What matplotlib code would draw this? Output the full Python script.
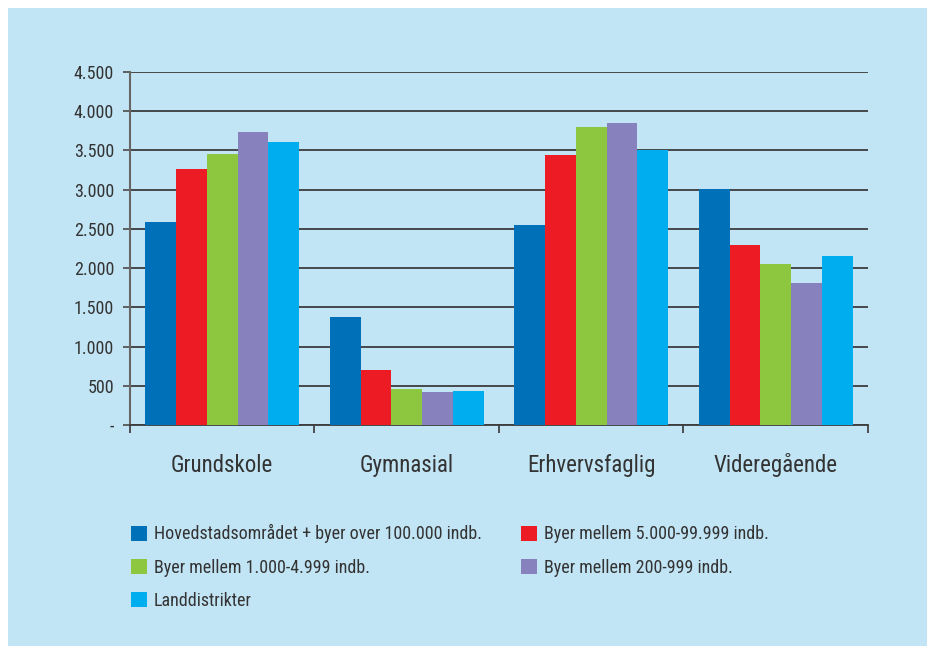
import matplotlib
matplotlib.use('Agg')
import matplotlib.pyplot as plt
import numpy as np
from matplotlib.patches import Rectangle

categories = ['Grundskole', 'Gymnasial', 'Erhvervsfaglig', 'Videregående']
series_names = ['Hovedstadsområdet + byer over 100.000 indb.',
                'Byer mellem 5.000-99.999 indb.',
                'Byer mellem 1.000-4.999 indb.',
                'Byer mellem 200-999 indb.',
                'Landdistrikter']
hovedstad = [2590, 1375, 2550, 3005]
byer_5000 = [3265, 700, 3440, 2295]
byer_1000 = [3455, 460, 3800, 2050]
byer_200 = [3735, 420, 3850, 1810]
land = [3610, 435, 3505, 2155]
yticks = [0, 500, 1000, 1500, 2000, 2500, 3000, 3500, 4000, 4500]
ytick_labels = ['-', '500', '1.000', '1.500', '2.000', '2.500', '3.000', '3.500', '4.000', '4.500']

colors = ['#0070b8', '#ed1c24', '#8dc63f', '#8781bd', '#00aeef']
bg = '#c2e5f5'
txt = '#333333'
font = ['Roboto Condensed', 'DejaVu Sans']

W, H = 928, 646
fig = plt.figure(figsize=(W / 100, H / 100), dpi=100)
fig.patch.set_facecolor('white')
fig.patches.append(Rectangle((8 / W, 0), 1, 1 - 8 / H, transform=fig.transFigure,
                             facecolor=bg, edgecolor='none', zorder=-10))

ax = fig.add_axes([130 / W, (H - 425) / H, (868 - 130) / W, (425 - 72) / H])
ax.set_facecolor(bg)

data = [hovedstad, byer_5000, byer_1000, byer_200, land]
x = np.arange(len(categories))
w = 0.167
for i, vals in enumerate(data):
    ax.bar(x + (i - 2) * w, vals, width=w, color=colors[i], zorder=3,
           label=series_names[i])

ax.set_xlim(-0.5, 3.5)
ax.set_ylim(0, 4500)
ax.set_yticks(yticks)
ax.set_yticklabels(ytick_labels, family=font, fontsize=13, color=txt)
ax.yaxis.grid(True, color='#3c3c3c', linewidth=1.3, zorder=1)
ax.tick_params(axis='y', length=5, width=1.3, color='#555555', pad=6.5)

ax.set_xticks(x)
ax.set_xticklabels(categories, family=font, fontsize=16.5, color=txt)
for lab in ax.get_xticklabels():
    lab.set_verticalalignment('baseline')
ax.tick_params(axis='x', length=0, pad=34)
ax.set_xticks(np.arange(-0.5, 4, 1), minor=True)
ax.tick_params(axis='x', which='minor', length=6, width=1.3, color='#444444')

for s in ['top', 'right']:
    ax.spines[s].set_visible(False)
ax.spines['left'].set_color('#666666')
ax.spines['left'].set_linewidth(1.5)
ax.spines['bottom'].set_color('#3c3c3c')
ax.spines['bottom'].set_linewidth(1.3)

# legend: two columns, first column holds three entries
handles, labels = ax.get_legend_handles_labels()
order = [0, 2, 4, 1, 3]
leg = fig.legend([handles[k] for k in order], [labels[k] for k in order],
                 ncol=2, loc='upper left', bbox_to_anchor=(124 / W, (H - 517) / H),
                 frameon=False, prop={'family': font, 'size': 13},
                 handlelength=0.89, handleheight=0.89, handletextpad=0.35,
                 columnspacing=2.2, labelspacing=0.85, labelcolor=txt,
                 borderaxespad=0, borderpad=0.4)

fig.savefig('out.png', dpi=100, facecolor=fig.get_facecolor())
